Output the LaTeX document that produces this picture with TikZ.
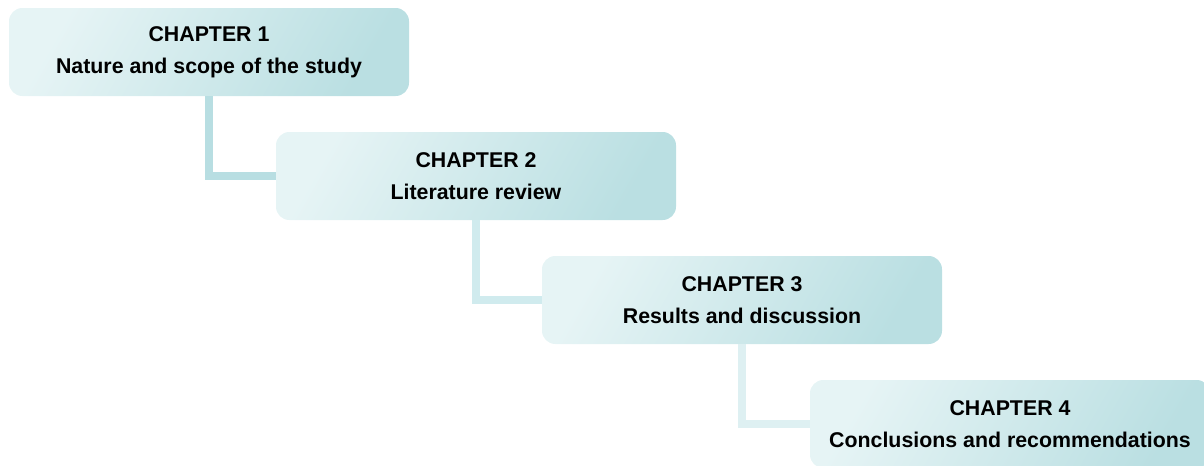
\documentclass[tikz,border=0pt]{standalone}
\usepackage{fontspec}
\setmainfont{Liberation Sans}
\definecolor{boxlight}{HTML}{E6F4F5}
\definecolor{boxmid}{HTML}{DDEFF1}
\definecolor{boxdark}{HTML}{BADFE2}
\definecolor{linkA}{HTML}{B8DEE2}
\definecolor{linkB}{HTML}{D0EBEE}
\definecolor{linkC}{HTML}{DEF0F2}
\tikzset{
  chapbox/.style={rounded corners=10pt, minimum width=300pt, minimum height=66pt,
    inner sep=0pt, align=center, font=\fontsize{16}{24}\selectfont\bfseries,
    left color=boxlight, middle color=boxmid, right color=boxdark, shading angle=60},
  link/.style={line width=6pt}
}
\begin{document}
\begin{tikzpicture}[x=0.75pt,y=-0.75pt]
\useasboundingbox (0,0) rectangle (1204,465);
\clip (0,0) rectangle (1204,465);
\node[chapbox] (c1) at (209,52) {CHAPTER 1\\Nature and scope of the study};
\node[chapbox] (c2) at (476,176) {CHAPTER 2\\Literature review};
\node[chapbox] (c3) at (742,300) {CHAPTER 3\\Results and discussion};
\node[chapbox] (c4) at (1010,424) {CHAPTER 4\\Conclusions and recommendations};
\draw[link, linkA] (c1.south) |- (c2.west);
\draw[link, linkB] (c2.south) |- (c3.west);
\draw[link, linkC] (c3.south) |- (c4.west);
\end{tikzpicture}
\end{document}
